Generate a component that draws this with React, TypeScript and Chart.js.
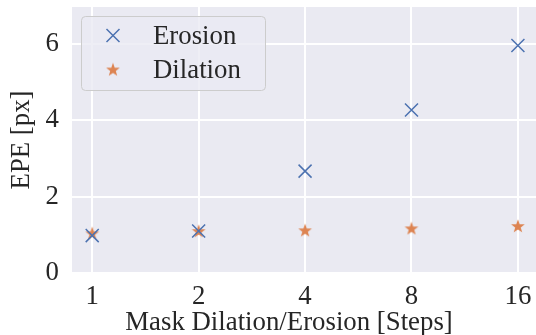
import React, { useEffect, useRef } from "react";
import { Chart, registerables } from "chart.js";

Chart.register(...registerables);

const steps = [1, 2, 4, 8, 16];
const erosion = [0.98, 1.1, 2.67, 4.27, 5.96];
const dilation = [1.04, 1.1, 1.12, 1.17, 1.23];
const yTicks = [0, 2, 4, 6];
const seriesNames = ["Erosion", "Dilation"];
const xTitle = "Mask Dilation/Erosion [Steps]";
const yTitle = "EPE [px]";

const FONT = "'Liberation Serif', 'Times New Roman', serif";
const TEXT = "#262626";
const BLUE = "#4C72B0";
const ORANGE = "#DD8452";
const FS = 26.8;

function makeStar(color: string): HTMLCanvasElement {
  const size = 16;
  const c = document.createElement("canvas");
  c.width = size;
  c.height = size;
  const ctx = c.getContext("2d")!;
  const cx = size / 2;
  const cy = size / 2 + 0.5;
  const outer = 7.2;
  const inner = 2.9;
  ctx.beginPath();
  for (let i = 0; i < 10; i++) {
    const r = i % 2 === 0 ? outer : inner;
    const a = -Math.PI / 2 + (i * Math.PI) / 5;
    const x = cx + r * Math.cos(a);
    const y = cy + r * Math.sin(a);
    if (i === 0) ctx.moveTo(x, y);
    else ctx.lineTo(x, y);
  }
  ctx.closePath();
  ctx.fillStyle = color;
  ctx.fill();
  return c;
}

export default function App() {
  const ref = useRef<HTMLCanvasElement | null>(null);

  useEffect(() => {
    document.body.style.margin = "0";
    const star = makeStar(ORANGE);

    const bgPlugin = {
      id: "bg",
      beforeDraw(chart: any) {
        const { ctx, chartArea } = chart;
        ctx.save();
        ctx.fillStyle = "#ffffff";
        ctx.fillRect(0, 0, chart.width, chart.height);
        ctx.fillStyle = "#EAEAF2";
        ctx.fillRect(chartArea.left, chartArea.top, chartArea.right - chartArea.left, chartArea.bottom - chartArea.top);
        ctx.restore();
      },
    };

    const legendPlugin = {
      id: "customLegend",
      afterDraw(chart: any) {
        const ctx = chart.ctx as CanvasRenderingContext2D;
        ctx.save();
        ctx.fillStyle = TEXT;
        ctx.font = `${FS}px ${FONT}`;
        ctx.textBaseline = "middle";
        ctx.textAlign = "center";
        ctx.fillText(xTitle, 289, 322.5);
        const x = 81, y = 16, w = 184, h = 74, r = 4;
        ctx.beginPath();
        (ctx as any).roundRect(x + 0.5, y + 0.5, w, h, r);
        ctx.fillStyle = "rgba(234,234,242,0.8)";
        ctx.fill();
        ctx.strokeStyle = "#CCCCCC";
        ctx.lineWidth = 1;
        ctx.stroke();
        const mx = 113;
        const rows = [35.5, 69.5];
        const d = 6.5;
        ctx.strokeStyle = BLUE;
        ctx.lineWidth = 1.5;
        ctx.beginPath();
        ctx.moveTo(mx - d, rows[0] - d);
        ctx.lineTo(mx + d, rows[0] + d);
        ctx.moveTo(mx - d, rows[0] + d);
        ctx.lineTo(mx + d, rows[0] - d);
        ctx.stroke();
        ctx.drawImage(star, mx - star.width / 2, rows[1] - star.height / 2);
        ctx.fillStyle = TEXT;
        ctx.textAlign = "left";
        ctx.fillText(seriesNames[0], 153, rows[0] + 1);
        ctx.fillText(seriesNames[1], 153, rows[1] + 1);
        ctx.restore();
      },
    };

    const chart = new Chart(ref.current!, {
      type: "scatter",
      data: {
        datasets: [
          {
            label: seriesNames[0],
            data: steps.map((s, i) => ({ x: s, y: erosion[i] })),
            pointStyle: "crossRot",
            pointRadius: 9.2,
            borderColor: BLUE,
            backgroundColor: BLUE,
            pointBorderWidth: 1.5,
          },
          {
            label: seriesNames[1],
            data: steps.map((s, i) => ({ x: s, y: dilation[i] })),
            pointStyle: star as any,
            pointRadius: 7,
            borderColor: ORANGE,
            backgroundColor: ORANGE,
          },
        ],
      },
      options: {
        animation: false,
        responsive: false,
        events: [],
        layout: { autoPadding: false, padding: { top: 7, right: 0, left: 0, bottom: 0 } },
        plugins: {
          legend: { display: false },
          tooltip: { enabled: false },
        },
        scales: {
          x: {
            type: "logarithmic",
            min: Math.pow(2, -0.19),
            max: Math.pow(2, 4.17),
            afterBuildTicks: (scale: any) => {
              scale.ticks = steps.map((v) => ({ value: v }));
            },
            afterFit: (scale: any) => {
              scale.height = 62;
              scale.paddingLeft = 0;
              scale.paddingRight = 0;
            },
            ticks: {
              autoSkip: false,
              maxRotation: 0,
              padding: 8,
              color: TEXT,
              font: { family: FONT, size: FS },
              callback: (v: any) => String(v),
            },
            grid: { color: "#ffffff", lineWidth: 2, drawTicks: false },
            border: { display: false },
            title: { display: false },
          },
          y: {
            type: "linear",
            min: 0,
            max: 6.97,
            afterBuildTicks: (scale: any) => {
              scale.ticks = yTicks.map((v) => ({ value: v }));
            },
            afterFit: (scale: any) => {
              scale.width = 72;
              scale.paddingTop = 0;
              scale.paddingBottom = 0;
            },
            ticks: {
              padding: 13,
              color: TEXT,
              font: { family: FONT, size: FS },
            },
            grid: { color: "#ffffff", lineWidth: 2, drawTicks: false },
            border: { display: false },
            title: {
              display: true,
              text: yTitle,
              color: TEXT,
              font: { family: FONT, size: FS },
              padding: { top: 6, bottom: 0 },
            },
          },
        },
      },
      plugins: [bgPlugin, legendPlugin],
    } as any);

    return () => chart.destroy();
  }, []);

  return (
    <div style={{ position: "fixed", left: 0, top: 0, width: 536, height: 335 }}>
      <canvas ref={ref} width={536} height={335} style={{ width: 536, height: 335, display: "block" }} />
    </div>
  );
}
